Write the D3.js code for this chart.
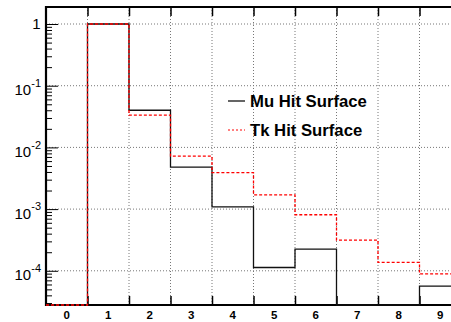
<!DOCTYPE html>
<html>
<head>
<meta charset="utf-8">
<script src="https://cdn.jsdelivr.net/npm/d3@7"></script>
<style>
  html, body { margin: 0; padding: 0; background: #fff; }
  svg { display: block; }
</style>
</head>
<body>
<svg id="chart" width="451" height="322"></svg>
<script>
// Bin centres (integer multiplicity 0..9)
const bins = [0, 1, 2, 3, 4, 5, 6, 7, 8, 9];
// Normalised fractions per bin
const muHits = [0, 1, 0.040, 4.8e-3, 1.09e-3, 1.13e-4, 2.25e-4, 0, 0, 5.65e-5];
const tkHits = [0, 1, 0.0333, 7.2e-3, 3.9e-3, 1.7e-3, 8.1e-4, 3.15e-4, 1.37e-4, 8.9e-5];
const seriesNames = ["Mu Hit Surface", "Tk Hit Surface"];
const yTickExps = [0, -1, -2, -3, -4];

(function () {
const svg = d3.select("#chart");
const W = 451;
const padL = 46, padT = 7, padB = 305;

const x = d3.scaleLinear().domain([-0.5, 9.5]).range([padL, 461]);
const y = d3.scaleLog().domain([2.79e-5, 1.887]).range([padB, padT]);
const yv = v => v > 0 ? y(v) : padB;

svg.append("defs").append("clipPath").attr("id", "plot")
  .append("rect").attr("x", padL).attr("y", padT).attr("width", W - padL).attr("height", padB - padT + 2);

const g = svg.append("g");

// Grid: dotted lines at bin edges and at every decade
const edges = d3.range(0.5, 9, 1);
g.append("g").selectAll("line").data(edges).join("line")
  .attr("x1", d => x(d)).attr("x2", d => x(d))
  .attr("y1", padT).attr("y2", padB)
  .attr("stroke", "#777").attr("stroke-width", 1).attr("stroke-dasharray", "1,2");
g.append("g").selectAll("line").data(yTickExps).join("line")
  .attr("x1", padL).attr("x2", W)
  .attr("y1", d => y(Math.pow(10, d))).attr("y2", d => y(Math.pow(10, d)))
  .attr("stroke", "#777").attr("stroke-width", 1).attr("stroke-dasharray", "1,2");

// Axes
const xAxis = d3.axisBottom(x).tickValues(edges).tickSize(-9).tickFormat("");
const xAxisG = g.append("g").attr("transform", `translate(0,${padB})`).call(xAxis);
xAxisG.select(".domain").remove();
xAxisG.selectAll("line").attr("stroke", "#000").attr("stroke-width", 1.5);

const xTop = d3.axisTop(x).tickValues(edges).tickSize(-9).tickFormat("");
const xTopG = g.append("g").attr("transform", `translate(0,${padT})`).call(xTop);
xTopG.select(".domain").remove();
xTopG.selectAll("line").attr("stroke", "#000").attr("stroke-width", 1.5);

// Minor log ticks
const minor = [];
for (let e = -5; e <= 0; e++) for (let m = 2; m <= 9; m++) {
  const v = m * Math.pow(10, e);
  if (v >= y.domain()[0] && v <= y.domain()[1]) minor.push(v);
}
const yMinor = d3.axisRight(y).tickValues(minor).tickSize(6).tickFormat("");
const yMinorG = g.append("g").attr("transform", `translate(${padL},0)`).call(yMinor);
yMinorG.select(".domain").remove();
yMinorG.selectAll("line").attr("stroke", "#000").attr("stroke-width", 1);

const yMajor = d3.axisRight(y).tickValues(yTickExps.map(e => Math.pow(10, e))).tickSize(12).tickFormat("");
const yMajorG = g.append("g").attr("transform", `translate(${padL},0)`).call(yMajor);
yMajorG.select(".domain").remove();
yMajorG.selectAll("line").attr("stroke", "#000").attr("stroke-width", 1);

// Frame
g.append("line").attr("x1", padL).attr("x2", padL).attr("y1", padT - 1).attr("y2", padB + 1)
  .attr("stroke", "#000").attr("stroke-width", 2.2);
g.append("line").attr("x1", padL - 1).attr("x2", W).attr("y1", padB).attr("y2", padB)
  .attr("stroke", "#000").attr("stroke-width", 2.2);
g.append("line").attr("x1", padL - 1).attr("x2", W).attr("y1", padT).attr("y2", padT)
  .attr("stroke", "#000").attr("stroke-width", 2.2);

// Step outline of a histogram
function stepPath(vals) {
  const p = d3.path();
  p.moveTo(x(bins[0] - 0.5), padB);
  bins.forEach((b, i) => {
    p.lineTo(x(b - 0.5), yv(vals[i]));
    p.lineTo(x(b + 0.5), yv(vals[i]));
  });
  p.lineTo(x(bins[bins.length - 1] + 0.5), padB);
  return p.toString();
}

const plot = g.append("g").attr("clip-path", "url(#plot)");
plot.append("path").attr("d", stepPath(muHits))
  .attr("fill", "none").attr("stroke", "#111").attr("stroke-width", 1.3);
plot.append("path").attr("d", stepPath(tkHits))
  .attr("fill", "none").attr("stroke", "#ff0000").attr("stroke-width", 1.3)
  .attr("stroke-dasharray", "3,2");

// X tick labels at bin centres
g.append("g").selectAll("text").data(bins).join("text")
  .attr("x", d => x(d)).attr("y", 319)
  .attr("text-anchor", "middle")
  .attr("font-family", "Liberation Sans, Arial, sans-serif")
  .attr("font-weight", "bold").attr("font-size", 11.5)
  .text(d => d);

// Y tick labels: 1, 10^-1 ... 10^-4
const yl = g.append("g").attr("font-family", "Liberation Sans, Arial, sans-serif").attr("fill", "#000");
yTickExps.forEach(e => {
  const yy = y(Math.pow(10, e));
  if (e === 0) {
    yl.append("text").attr("x", 40.5).attr("y", yy + 5.2)
      .attr("text-anchor", "end").attr("font-size", 15).text("1");
  } else {
    const t = yl.append("text").attr("x", 41).attr("y", yy + 9.6)
      .attr("text-anchor", "end").attr("font-size", 15);
    t.append("tspan").text("10");
    t.append("tspan").attr("font-size", 11).attr("dy", -8.5).text(String(e));
  }
});

// Legend
const legend = g.append("g").attr("font-family", "Liberation Sans, Arial, sans-serif")
  .attr("font-weight", "bold").attr("font-size", 16.7);
const legRows = [
  { name: seriesNames[0], y: 101, color: "#111", dash: null },
  { name: seriesNames[1], y: 130, color: "#ff0000", dash: "2,2" }
];
legRows.forEach(r => {
  legend.append("line").attr("x1", 228).attr("x2", 245).attr("y1", r.y).attr("y2", r.y)
    .attr("stroke", r.color).attr("stroke-width", r.dash ? 1 : 1.3)
    .attr("stroke-dasharray", r.dash);
  legend.append("text").attr("x", 250).attr("y", r.y + 6.3).text(r.name);
});
})();
</script>
</body>
</html>
